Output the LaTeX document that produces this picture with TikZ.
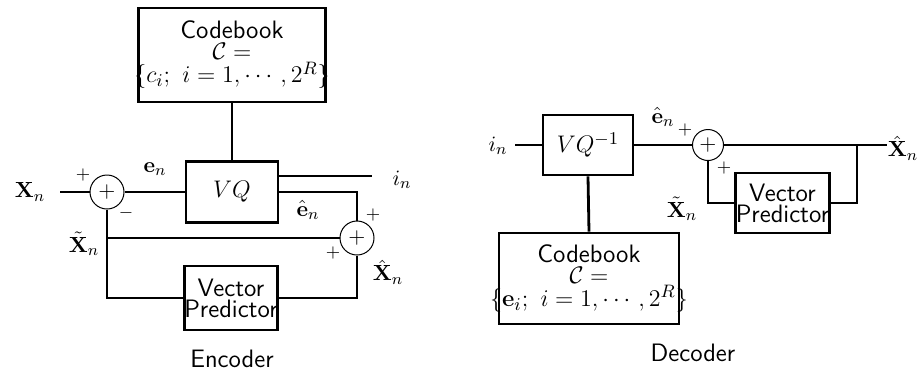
\documentclass[tikz,border=0pt]{standalone}
\usepackage{amsmath, amssymb}
\usetikzlibrary{positioning, calc}
\tikzset{
  blk/.style={
	draw, % box outline
	line width=1.4pt, % heavy border as in the scan
	inner sep=0pt,
	align=center,
	font=\fontsize{12.6}{10.5}\selectfont\sffamily, % block text is sans
  },
  sumnode/.style={draw, circle, line width=0.5pt, inner sep=0pt, minimum size=17pt, font=\fontsize{11}{11}\selectfont}, % adder
  wire/.style={line width=1.4pt},
  lbl/.style={font=\fontsize{11}{11}\selectfont, inner sep=0pt}, % signal names
  sgn/.style={font=\fontsize{9}{9}\selectfont, inner sep=0pt}, % signs at the adders
}

\begin{document}
\begin{tikzpicture}[x=0.5pt, y=-0.5pt]
\useasboundingbox (0,0) rectangle (917,371);

% encoder
\node[blk, minimum width=93.5pt, minimum height=47pt] (CB) at (232,55) {Codebook\\$\mathcal{C}=$\\\makebox[0pt]{$\{c_i;\ i=1,\cdots,2^R\}$}};
\node[blk, minimum width=46pt, minimum height=30.5pt] (VQ) at (232,192) {$VQ$};
\node[sumnode] (S1) at (107,192) {$+$};
\node[sumnode] (S2) at (357,238) {$+$};
\node[blk, minimum width=46.5pt, minimum height=32pt] (VP) at (231,298) {Vector\\Predictor};
\coordinate (xin) at (60,192);
\coordinate (iout) at (372,176);

\draw[wire] (CB.south) -- (VQ.north);
\draw[wire] (xin) -- (S1.west) (S1.east) -- (VQ.west);
\draw[wire] (iout -| VQ.east) -- (iout);
\draw[wire] (VQ.east) -| (S2.north);
\draw[wire] (S1.south) |- (VP.west);
\draw[wire] (S2.south) |- (VP.east);
\draw[line width=0.9pt] (S1.south |- S2.west) -- (S2.west);

\node[lbl] (xl) at (30,192) {$\mathbf{X}_n$};
\node[lbl] (el) at (155,169) {$\mathbf{e}_n$};
\node[lbl] (il) at (402,180) {$i_n$};
\node[lbl] (ehl) at (308,210) {$\hat{\mathbf{e}}_n$};
\node[lbl] (xtl) at (84,244) {$\tilde{\mathbf{X}}_n$};
\node[lbl] (xhl) at (388,272) {$\hat{\mathbf{X}}_n$};
\node[sgn] (p1) at (83,175) {$+$};
\node[sgn] (m1) at (126,213) {$-$};
\node[sgn] (p2) at (373,215) {$+$};
\node[sgn] (p3) at (333,253) {$+$};
\node[font=\fontsize{12.6}{12}\selectfont\sffamily] (enc) at (232,359) {Encoder};

% decoder
\node[blk, minimum width=45pt, minimum height=30pt] (VQd) at (588,145) {$VQ^{-1}$};
\node[sumnode, minimum size=15.5pt] (Sd) at (708,145) {$+$};
\node[blk, minimum width=46.5pt, minimum height=30pt] (VPd) at (782.5,203) {Vector\\Predictor};
\node[blk, minimum width=90pt, minimum height=45.5pt] (CBd) at (589,278.5) {Codebook\\$\mathcal{C}=$\\\makebox[0pt]{$\{\mathbf{e}_i;\ i=1,\cdots,2^R\}$}};
\coordinate (din) at (515,145);
\coordinate (dout) at (887,145);
\coordinate (br) at (857,145);

\draw[wire] (din) -- (VQd.west) (VQd.east) -- (Sd.west) (Sd.east) -- (dout);
\draw[wire] (br) |- (VPd.east);
\draw[wire] (VPd.west) -| (Sd.south);
\draw[wire] (VQd.south) -- (CBd.north);

\node[lbl] (idl) at (498,146) {$i_n$};
\node[lbl] (edl) at (663,117) {$\hat{\mathbf{e}}_n$};
\node[lbl] (xdl) at (903,148) {$\hat{\mathbf{X}}_n$};
\node[lbl] (xtdl) at (682,209) {$\tilde{\mathbf{X}}_n$};
\node[sgn] (pd1) at (685,130) {$+$};
\node[sgn] (pd2) at (724,168) {$+$};
\node[font=\fontsize{12.6}{12}\selectfont\sffamily] (dec) at (693,353) {Decoder};
\end{tikzpicture}
\end{document}
